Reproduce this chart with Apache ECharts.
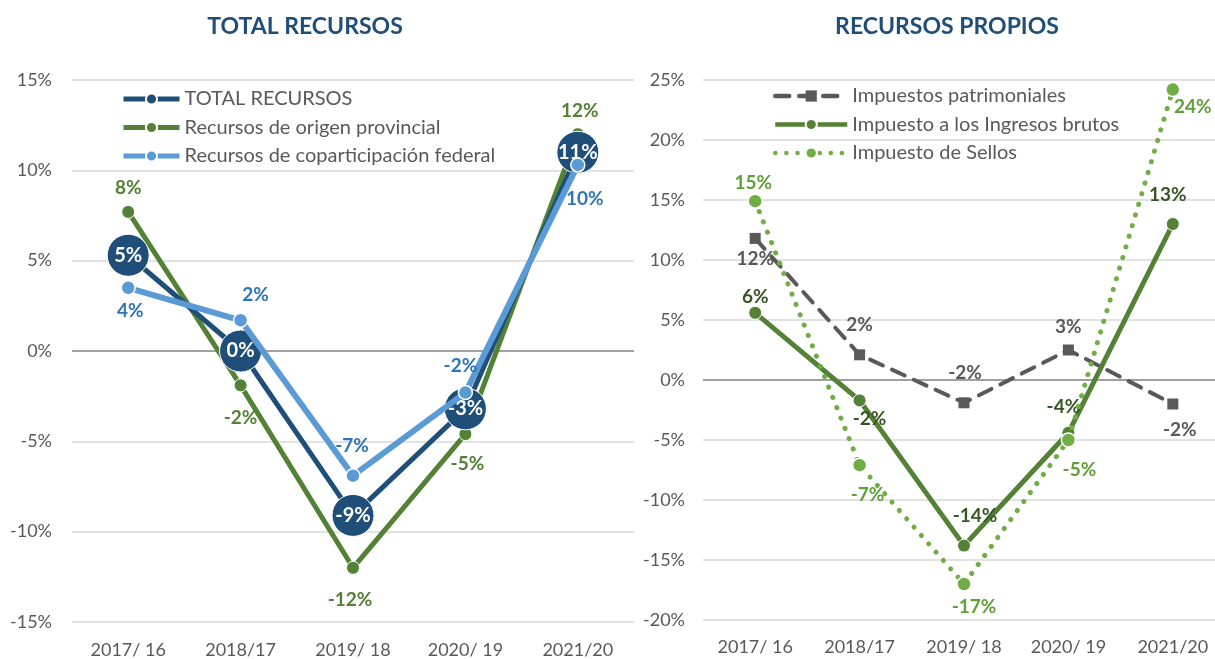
<!DOCTYPE html>
<html><head><meta charset="utf-8">
<script src="https://cdn.jsdelivr.net/npm/echarts@6/dist/echarts.min.js"></script>
<style>html,body{margin:0;padding:0;background:#fff;overflow:hidden;width:1215px;height:659px}#c{width:1225px;height:659px}</style>
</head><body><div id="c"></div>
<script>
var categories = ['2017/ 16','2018/17','2019/ 18','2020/ 19','2021/20'];
var leftTicks = [-15,-10,-5,0,5,10,15];
var rightTicks = [-20,-15,-10,-5,0,5,10,15,20,25];

var totalRecursos = [5.3, 0.0, -9.1, -3.2, 11.0];
var origenProvincial = [7.7, -1.9, -12.0, -4.6, 12.0];
var coparticipacion = [3.5, 1.7, -6.9, -2.3, 10.3];

var patrimoniales = [11.8, 2.1, -1.9, 2.5, -2.0];
var ingresosBrutos = [5.6, -1.7, -13.8, -4.4, 13.0];
var sellos = [14.9, -7.1, -17.0, -5.0, 24.2];

// label offsets (styling), relative to the point centre
var offProv = [[0,-24],[0,33],[-3,32],[2,30],[2,-23]];
var offCop = [[2,23],[15,-25],[-1,-30],[-5,-27],[7,34]];
var offPat = [[0,20],[0,-30],[1,-30],[0,-23],[7,26]];
var offIIBB = [[0,-16],[10,18],[11,-30],[-5,-26],[-5,-29]];
var offSel = [[-2,-18],[8,30],[10,23],[11,30],[20,17]];

var FONT = 'Lato, "Open Sans", sans-serif';
function pct(v){ return Math.round(v) + '%'; }
function withLabels(vals, offs, color){
  return vals.map(function(v,i){
    return {value:v, label:{show:true, position:'inside', offset:offs[i], color:color,
      fontWeight:'bold', fontSize:19, fontFamily:FONT, formatter:function(p){return pct(p.value);}}};
  });
}

var axisLabelStyle = {color:'#595959', fontSize:18, fontFamily:FONT};
var legendText = {color:'#595959', fontSize:20, lineHeight:20, fontFamily:FONT};

var option = {
  animation:false,
  textStyle:{fontFamily:FONT},
  graphic:[
    {type:'text', x:305, y:27, style:{text:'TOTAL RECURSOS', textAlign:'center', textVerticalAlign:'middle', font:'bold 23px '+FONT, fill:'#1F4E79'}},
    {type:'text', x:947, y:27, style:{text:'RECURSOS PROPIOS', textAlign:'center', textVerticalAlign:'middle', font:'bold 23px '+FONT, fill:'#1F4E79'}}
  ],
  legend:[
    {orient:'vertical', left:121, top:89, padding:0, itemWidth:56, itemHeight:14, itemGap:8.5,
     textStyle:legendText, lineStyle:{width:5},
     data:['TOTAL RECURSOS','Recursos de origen provincial','Recursos de coparticipación federal']},
    {orient:'vertical', left:773, top:86, padding:0, itemWidth:72, itemHeight:14, itemGap:8.5,
     textStyle:legendText, lineStyle:{width:4.5},
     data:['Impuestos patrimoniales','Impuesto a los Ingresos brutos','Impuesto de Sellos']}
  ],
  grid:[
    {left:72, width:562, top:80, bottom:35},
    {left:703, width:522, top:80, bottom:39}
  ],
  xAxis:[
    {type:'category', gridIndex:0, data:categories, boundaryGap:true,
     axisLine:{show:false}, axisTick:{show:false}, axisLabel:Object.assign({margin:19}, axisLabelStyle)},
    {type:'category', gridIndex:1, data:categories, boundaryGap:true,
     axisLine:{show:false}, axisTick:{show:false}, axisLabel:Object.assign({margin:18}, axisLabelStyle)}
  ],
  yAxis:[
    {type:'value', gridIndex:0, min:leftTicks[0], max:leftTicks[leftTicks.length-1], interval:5,
     axisLine:{show:false}, axisTick:{show:false},
     axisLabel:Object.assign({margin:20, formatter:'{value}%'}, axisLabelStyle),
     splitLine:{lineStyle:{color:'#D9D9D9', width:1.5}}},
    {type:'value', gridIndex:1, min:rightTicks[0], max:rightTicks[rightTicks.length-1], interval:5,
     axisLine:{show:false}, axisTick:{show:false},
     axisLabel:Object.assign({margin:18, formatter:'{value}%'}, axisLabelStyle),
     splitLine:{lineStyle:{color:'#D9D9D9', width:1.5}}}
  ],
  series:[
    {type:'line', name:'zero0', xAxisIndex:0, yAxisIndex:0, data:[null,null,null,null,null], z:1,
     markLine:{silent:true, symbol:'none', z:1, label:{show:false}, lineStyle:{color:'#898989', width:1.5, type:'solid'}, data:[{yAxis:0}]}},
    {type:'line', name:'zero1', xAxisIndex:1, yAxisIndex:1, data:[null,null,null,null,null], z:1,
     markLine:{silent:true, symbol:'none', z:1, label:{show:false}, lineStyle:{color:'#898989', width:1.5, type:'solid'}, data:[{yAxis:0}]}},

    {type:'line', name:'Recursos de origen provincial', xAxisIndex:0, yAxisIndex:0, z:3,
     data:withLabels(origenProvincial, offProv, '#538135'),
     color:'#538135', lineStyle:{color:'#538135', width:5},
     symbol:'circle', symbolSize:13, itemStyle:{color:'#538135', borderColor:'#fff', borderWidth:1}},
    {type:'line', name:'TOTAL RECURSOS', xAxisIndex:0, yAxisIndex:0, z:4,
     data:totalRecursos.map(function(v){return {value:v};}),
     color:'#1F4E79', lineStyle:{color:'#1F4E79', width:5},
     symbol:'circle', symbolSize:42, itemStyle:{color:'#1F4E79', borderColor:'#fff', borderWidth:1},
     label:{show:true, position:'inside', color:'#fff', fontWeight:'bold', fontSize:20, fontFamily:FONT,
       formatter:function(p){return pct(p.value);}}},
    {type:'line', name:'Recursos de coparticipación federal', xAxisIndex:0, yAxisIndex:0, z:5,
     data:withLabels(coparticipacion, offCop, '#2E75B6'),
     color:'#5B9BD5', lineStyle:{color:'#5B9BD5', width:6},
     symbol:'circle', symbolSize:14, itemStyle:{color:'#5B9BD5', borderColor:'#fff', borderWidth:1.5}},

    {type:'line', name:'Impuestos patrimoniales', xAxisIndex:1, yAxisIndex:1, z:3,
     data:withLabels(patrimoniales, offPat, '#595959'),
     color:'#595959', lineStyle:{color:'#595959', width:4, type:[14,10], cap:'round'},
     symbol:'rect', symbolSize:11, itemStyle:{color:'#595959'}},
    {type:'line', name:'Impuesto a los Ingresos brutos', xAxisIndex:1, yAxisIndex:1, z:4,
     data:withLabels(ingresosBrutos, offIIBB, '#375623'),
     color:'#538135', lineStyle:{color:'#538135', width:5},
     symbol:'circle', symbolSize:13, itemStyle:{color:'#538135', borderColor:'#fff', borderWidth:1}},
    {type:'line', name:'Impuesto de Sellos', xAxisIndex:1, yAxisIndex:1, z:5,
     data:withLabels(sellos, offSel, '#5FA03A'),
     color:'#70AD47', lineStyle:{color:'#70AD47', width:5, type:[0.1,11], cap:'round'},
     symbol:'circle', symbolSize:14, itemStyle:{color:'#70AD47', borderColor:'#fff', borderWidth:1.5}}
  ]
};
var chart = echarts.init(document.getElementById('c'), null, {renderer:'canvas'});
chart.setOption(option);
</script></body></html>
